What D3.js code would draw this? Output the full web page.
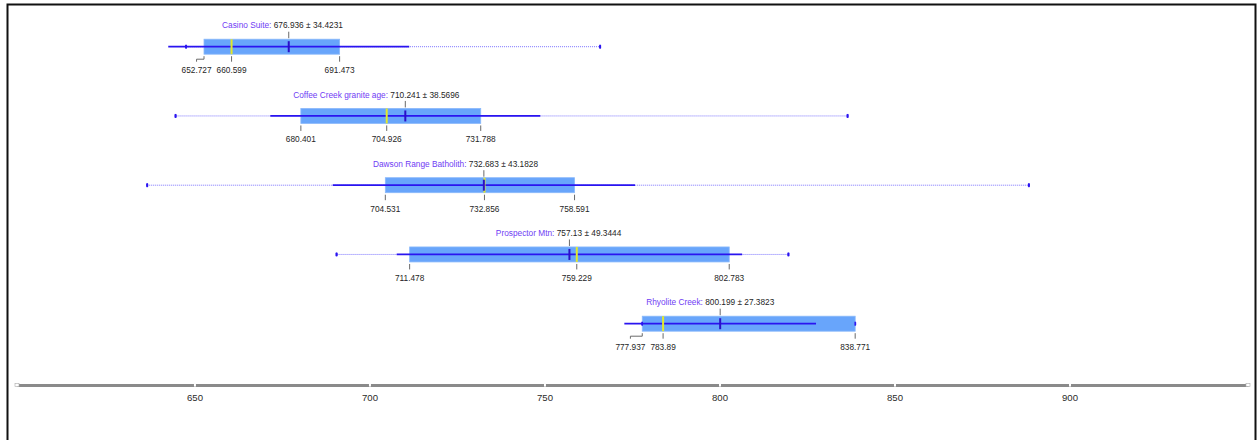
<!DOCTYPE html>
<html>
<head>
<meta charset="utf-8">
<script src="https://cdn.jsdelivr.net/npm/d3@7"></script>
<style>
  html, body { margin: 0; padding: 0; background: #fff; }
  svg { display: block; font-family: "Liberation Sans", Arial, sans-serif; }
</style>
</head>
<body>
<svg id="chart" width="1257" height="440"></svg>
<script>
// Per-group age statistics
const names   = ["Casino Suite", "Coffee Creek granite age", "Dawson Range Batholith", "Prospector Mtn", "Rhyolite Creek"];
const means   = [676.936, 710.241, 732.683, 757.13, 800.199];
const sds     = [34.4231, 38.5696, 43.1828, 49.3444, 27.3823];
const boxLow  = [652.727, 680.401, 704.531, 711.478, 777.937];
const medians = [660.599, 704.926, 732.856, 759.229, 783.89];
const boxHigh = [691.473, 731.788, 758.591, 802.783, 838.771];
const mins    = [647.6, 644.6, 636.5, 690.6, 777.937];
const maxs    = [765.9, 836.6, 888.4, 819.7, 838.771];
const lowLabels  = ["652.727", "680.401", "704.531", "711.478", "777.937"];
const medLabels  = ["660.599", "704.926", "732.856", "759.229", "783.89"];
const highLabels = ["691.473", "731.788", "758.591", "802.783", "838.771"];
const meanLabels = ["676.936", "710.241", "732.683", "757.13", "800.199"];
const sdLabels   = ["34.4231", "38.5696", "43.1828", "49.3444", "27.3823"];
const axisTicks  = [650, 700, 750, 800, 850, 900];

const svg = d3.select("#chart");

const x = d3.scaleLinear().domain([599.3, 951.0]).range([17, 1248]);
const y = d3.scalePoint().domain(names).range([46.7, 323.7]);

const C = {
  box: "#68a5fb", boxEdge: "#8ab9fb", line: "#2a14f0", mean: "#2a10c8",
  median: "#e3e82a", dotted: "#7c74ff", tick: "#6a6a6a", name: "#6f3cf4", text: "#1e1e1e"
};
const boxH = 15;
const fs = 8.3;

// Frame
svg.append("path")
  .attr("d", "M7.5,445 V4.5 H1255.5 V445")
  .attr("fill", "none").attr("stroke", "#111").attr("stroke-width", 2);

const groups = names.map((n, i) => ({
  name: n, mean: means[i], sd: sds[i], lo: boxLow[i], med: medians[i], hi: boxHigh[i],
  min: mins[i], max: maxs[i], loL: lowLabels[i], medL: medLabels[i], hiL: highLabels[i],
  meanL: meanLabels[i], sdL: sdLabels[i]
}));

const g = svg.selectAll("g.grp").data(groups).join("g")
  .attr("class", "grp")
  .attr("transform", d => `translate(0,${y(d.name)})`);

// Dotted range line (min to max) with end markers
g.append("line")
  .attr("x1", d => x(d.min)).attr("x2", d => x(d.max))
  .attr("stroke", C.dotted).attr("stroke-width", 1).attr("stroke-dasharray", "1,1");
g.each(function(d) {
  const s = d3.select(this);
  [d.min, d.max].forEach(v => {
    s.append("rect").attr("x", x(v) - 1).attr("y", -1.5).attr("width", 2).attr("height", 3)
      .attr("fill", C.line);
  });
});

// Box
g.append("rect")
  .attr("x", d => x(d.lo)).attr("width", d => x(d.hi) - x(d.lo))
  .attr("y", -boxH / 2).attr("height", boxH)
  .attr("fill", C.box).attr("stroke", C.boxEdge).attr("stroke-width", 0.8);

// Mean ± sd line
g.append("line")
  .attr("x1", d => x(d.mean - d.sd)).attr("x2", d => x(d.mean + d.sd))
  .attr("stroke", C.line).attr("stroke-width", 1.8);

// Re-draw the min/max markers that fall on the solid line
g.each(function(d) {
  const s = d3.select(this);
  [d.min, d.max].forEach(v => {
    s.append("rect").attr("x", x(v) - 0.75).attr("y", -2).attr("width", 1.5).attr("height", 4)
      .attr("fill", C.line);
  });
});

// Median and mean marks
g.append("line")
  .attr("x1", d => x(d.med)).attr("x2", d => x(d.med))
  .attr("y1", -boxH / 2).attr("y2", boxH / 2)
  .attr("stroke", C.median).attr("stroke-width", 2);
g.append("line")
  .attr("x1", d => x(d.mean)).attr("x2", d => x(d.mean))
  .attr("y1", -boxH / 2 + 2).attr("y2", boxH / 2 - 2)
  .attr("stroke", C.mean).attr("stroke-width", 2);

// Mean tick above the box
g.append("line")
  .attr("x1", d => x(d.mean)).attr("x2", d => x(d.mean))
  .attr("y1", -15).attr("y2", -8.5)
  .attr("stroke", C.tick).attr("stroke-width", 1);

// Title: name, mean (centred on mean), ± sd
g.each(function(d) {
  const s = d3.select(this);
  const mx = x(d.mean);
  const ty = -18.3;
  const num = s.append("text").attr("x", mx).attr("y", ty).attr("text-anchor", "middle")
    .attr("font-size", fs).attr("fill", C.text).text(d.meanL);
  const w = num.node().getComputedTextLength();
  s.append("text").attr("x", mx - w / 2 - 2.3).attr("y", ty).attr("text-anchor", "end")
    .attr("font-size", fs).attr("fill", C.name).text(d.name + ":");
  s.append("text").attr("x", mx + w / 2 + 2.3).attr("y", ty).attr("text-anchor", "start")
    .attr("font-size", fs).attr("fill", C.text).text("\u00b1 " + d.sdL);
});

// Value labels below the box, with leaders when shifted to avoid overlap
g.each(function(d) {
  const s = d3.select(this);
  const items = [
    { v: d.lo, t: d.loL }, { v: d.med, t: d.medL }, { v: d.hi, t: d.hiL }
  ];
  const ly = 26.4;
  items.forEach(it => {
    it.x0 = x(it.v);
    it.node = s.append("text").attr("y", ly).attr("text-anchor", "middle")
      .attr("font-size", fs).attr("fill", C.text).text(it.t);
    it.w = it.node.node().getComputedTextLength();
    it.cx = it.x0;
  });
  const gap = 5;
  for (let i = items.length - 2; i >= 0; i--) {
    const a = items[i], b = items[i + 1];
    const need = (b.cx - b.w / 2) - gap;
    if (a.cx + a.w / 2 > need) a.cx = need - a.w / 2;
  }
  items.forEach(it => {
    it.node.attr("x", it.cx);
    const top = boxH / 2 + 2, bot = boxH / 2 + 7.5;
    if (Math.abs(it.cx - it.x0) < 0.5) {
      s.append("line").attr("x1", it.x0).attr("x2", it.x0).attr("y1", top).attr("y2", bot)
        .attr("stroke", C.tick).attr("stroke-width", 1);
    } else {
      const mid = top + 3;
      s.append("path")
        .attr("d", `M${it.x0},${top} V${mid} H${it.cx} V${bot}`)
        .attr("fill", "none").attr("stroke", C.tick).attr("stroke-width", 1);
    }
  });
});

// Horizontal axis
const axisY = 385;
const ax = svg.append("g").attr("transform", `translate(0,${axisY})`)
  .call(d3.axisBottom(x).tickValues(axisTicks).tickSizeOuter(0).tickSizeInner(0).tickPadding(9)
    .tickFormat(d3.format("d")));
ax.select(".domain").attr("stroke", "#8a8a8a").attr("stroke-width", 3.2);
ax.selectAll(".tick line").attr("y1", -1.6).attr("y2", 1.6).attr("stroke", "#fff").attr("stroke-width", 2);
ax.selectAll(".tick text").attr("font-size", 9.6).attr("fill", "#2a2a2a")
  .attr("font-family", "'Liberation Sans', Arial, sans-serif");
x.range().forEach(px => {
  ax.append("rect").attr("x", px - 2).attr("y", -1.5).attr("width", 4).attr("height", 3)
    .attr("fill", "#fff").attr("stroke", "#aaa").attr("stroke-width", 0.6);
});
</script>
</body>
</html>
